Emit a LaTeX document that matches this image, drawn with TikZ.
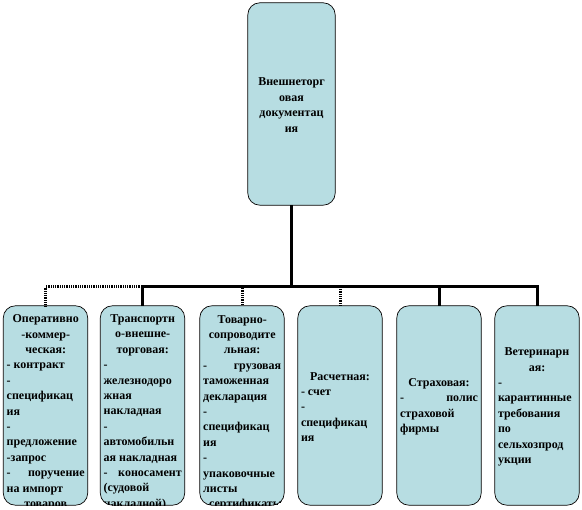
\documentclass[tikz,border=0pt]{standalone}
\usepackage{fontspec}
\setmainfont{Liberation Serif}
\newlength\boxtw
\setlength\boxtw{78pt}
\newcommand\lnL[1]{\makebox[\boxtw][l]{#1}}
\newcommand\lnC[1]{\makebox[\boxtw][c]{#1}}
\newcommand\lnJ[2]{\makebox[\boxtw][s]{#1\hfill#2}}
\definecolor{boxfill}{HTML}{B7DDE2}
\tikzset{
  docbox/.style={fill=boxfill, rounded corners=12pt,
    minimum width=84pt, minimum height=199pt, inner sep=0pt},
  boxline/.style={draw=black, line width=0.7pt, rounded corners=12pt},
  doctext/.style={inner sep=0pt, align=left,
    font={\fontsize{12}{15.4}\selectfont\bfseries}},
  solidlink/.style={draw=black, line width=3pt},
  dotlink/.style={draw=black, line width=3pt, dash pattern=on 1pt off 0.8pt},
}
\begin{document}
\begin{tikzpicture}[x=1pt,y=-1pt]
\useasboundingbox[fill=white] (0,0) rectangle (582,510);
% top box
\node[docbox, minimum width=87pt, minimum height=202pt] (top) at (291.5,104) {};
\node[doctext, anchor=center] (ttop) at (291.5,105)
  {\lnC{Внешнеторг}\\ \lnC{овая}\\ \lnC{документац}\\ \lnC{ия}};
% bottom boxes
\node[docbox] (b1) at (45.5,405.5) {};
\node[docbox] (b2) at (142.5,405.5) {};
\node[docbox] (b3) at (242,405.5) {};
\node[docbox] (b4) at (340,405.5) {};
\node[docbox] (b5) at (439,405.5) {};
\node[docbox] (b6) at (537,405.5) {};
% connectors
\coordinate (hub) at (291.5,287);
\draw[solidlink] (top.south) -- (hub);
\draw[dotlink] (hub) -| (b1.north);
\draw[dotlink] (hub) -| (b3.north);
\draw[dotlink] (hub) -| (b4.north);
\draw[solidlink] (hub) -| (b2.north);
\draw[solidlink] (hub) -| (b5.north);
\draw[solidlink] (hub) -| (b6.north);
% box 1 text (clipped)
\begin{scope}
\clip[rounded corners=12pt] (b1.north west) rectangle (b1.south east);
\node[doctext, anchor=north west] (t1) at (6.5,314.5)
  {\lnC{Оперативно}\\ \lnC{-коммер-}\\ \lnC{ческая:}\\
   \lnL{- контракт}\\ \lnL{-}\\ \lnL{спецификац}\\ \lnL{ия}\\ \lnL{-}\\
   \lnL{предложение}\\ \lnL{-запрос}\\ \lnJ{-}{поручение}\\ \lnL{на импорт}\\
   \lnC{товаров}};
\end{scope}
% box 2 text (clipped)
\begin{scope}
\clip[rounded corners=12pt] (b2.north west) rectangle (b2.south east);
\node[doctext, anchor=north west] (t2) at (103.5,314.5)
  {\lnC{Транспортн}\\ \lnC{о-внешне-}\\ \lnC{торговая:}\\
   \lnL{-}\\ \lnL{железнодоро}\\ \lnL{жная}\\ \lnL{накладная}\\ \lnL{-}\\
   \lnL{автомобильн}\\ \lnL{ая накладная}\\ \lnJ{-}{коносамент}\\ \lnL{(судовой}\\
   \lnL{накладной)}};
\end{scope}
% box 3 text (clipped)
\begin{scope}
\clip[rounded corners=12pt] (b3.north west) rectangle (b3.south east);
\node[doctext, anchor=north west] (t3) at (203,315)
  {\lnC{Товарно-}\\ \lnC{сопроводите}\\ \lnC{льная:}\\
   \lnJ{-}{грузовая}\\ \lnL{таможенная}\\ \lnL{декларация}\\ \lnL{-}\\
   \lnL{спецификац}\\ \lnL{ия}\\ \lnL{-}\\ \lnL{упаковочные}\\ \lnL{листы}\\
   \lnC{- сертификаты}};
\end{scope}
% box 4-6 text
\node[doctext, anchor=center] (t4) at (340,407)
  {\lnC{Расчетная:}\\ \lnL{- счет}\\ \lnL{-}\\ \lnL{спецификац}\\ \lnL{ия}};
\node[doctext, anchor=center] (t5) at (439,407)
  {\lnC{Страховая:}\\ \lnJ{-}{полис}\\ \lnL{страховой}\\ \lnL{фирмы}};
\node[doctext, anchor=center] (t6) at (537,407)
  {\lnC{Ветеринарн}\\ \lnC{ая:}\\ \lnL{-}\\ \lnL{карантинные}\\ \lnL{требования}\\
   \lnL{по}\\ \lnL{сельхозпрод}\\ \lnL{укции}};
% box outlines on top
\foreach \b in {top,b1,b2,b3,b4,b5,b6}
  \draw[boxline] (\b.north west) rectangle (\b.south east);
\end{tikzpicture}
\end{document}
